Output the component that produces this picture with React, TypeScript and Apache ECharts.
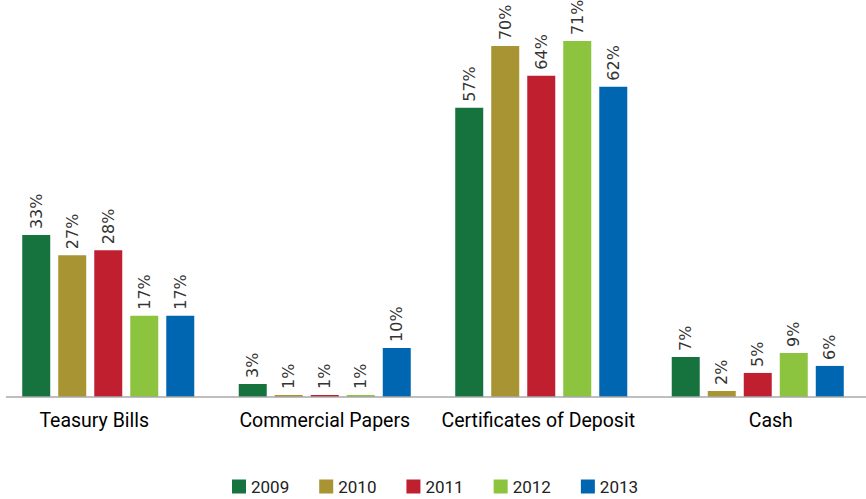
import React, { useEffect, useRef } from "react";
import * as echarts from "echarts";

const categories = ["Teasury Bills", "Commercial Papers", "Certificates of Deposit", "Cash"];
const years = ["2009", "2010", "2011", "2012", "2013"];
const colors = ["#17733e", "#a99433", "#c01f30", "#8cc43f", "#0066b2"];

// bar heights as drawn (percent)
const values2009 = [32.3, 2.6, 57.7, 8.0];
const values2010 = [28.3, 0.4, 70.0, 1.2];
const values2011 = [29.3, 0.4, 64.1, 4.8];
const values2012 = [16.2, 0.4, 71.0, 8.8];
const values2013 = [16.2, 9.8, 61.9, 6.2];

// printed labels (percent)
const labels2009 = [33, 3, 57, 7];
const labels2010 = [27, 1, 70, 2];
const labels2011 = [28, 1, 64, 5];
const labels2012 = [17, 1, 71, 9];
const labels2013 = [17, 10, 62, 6];

const allValues = [values2009, values2010, values2011, values2012, values2013];
const allLabels = [labels2009, labels2010, labels2011, labels2012, labels2013];

// category label horizontal padding [right, left] to offset text like the reference
const labelPads = [
  [0, 28, 0, 0],
  [0, 0, 0, 0],
  [0, 6, 0, 0],
  [0, 0, 0, 26],
];

export default function App() {
  const ref = useRef<HTMLDivElement>(null);
  useEffect(() => {
    if (!ref.current) return;
    const chart = echarts.init(ref.current, null, { renderer: "svg" });
    const series = years.map((y, i) => ({
      name: y,
      type: "bar",
      barWidth: 28,
      barGap: "28.6%",
      itemStyle: { color: colors[i] },
      data: allValues[i],
      label: {
        show: true,
        position: "top",
        rotate: 90,
        align: "left",
        verticalAlign: "middle",
        distance: 6,
        fontFamily: "DejaVu Sans",
        fontSize: 16,
        color: "#333",
        formatter: (p: any) => `${allLabels[i][p.dataIndex]}%`,
      },
    }));
    chart.setOption({
      animation: false,
      grid: { left: 0, top: 0, width: 870, bottom: 102, containLabel: false },
      xAxis: {
        type: "category",
        data: categories.map((c, i) => ({ value: c, textStyle: { padding: labelPads[i] } })),
        axisLine: { show: false },
        axisTick: { show: false },
        axisLabel: {
          interval: 0,
          margin: 13,
          fontFamily: "Roboto",
          fontSize: 19.5,
          fontWeight: "normal",
          color: "#000",
        },
      },
      yAxis: { type: "value", min: 0, max: 79.2, show: false, splitLine: { show: false } },
      legend: {
        top: 473,
        left: 227,
        itemWidth: 14,
        itemHeight: 14,
        itemGap: 30,
        icon: "rect",
        textStyle: { fontFamily: "Roboto", fontSize: 17, color: "#222" },
        data: years,
      },
      graphic: [
        {
          type: "line",
          shape: { x1: 6, y1: 397, x2: 866, y2: 397 },
          style: { stroke: "#a8a8a8", lineWidth: 1.5 },
          z: 10,
        },
      ],
      series,
    });
    return () => chart.dispose();
  }, []);
  return (
    <div
      ref={ref}
      style={{ position: "absolute", left: 0, top: 0, width: 866, height: 499, background: "#fff" }}
    />
  );
}
